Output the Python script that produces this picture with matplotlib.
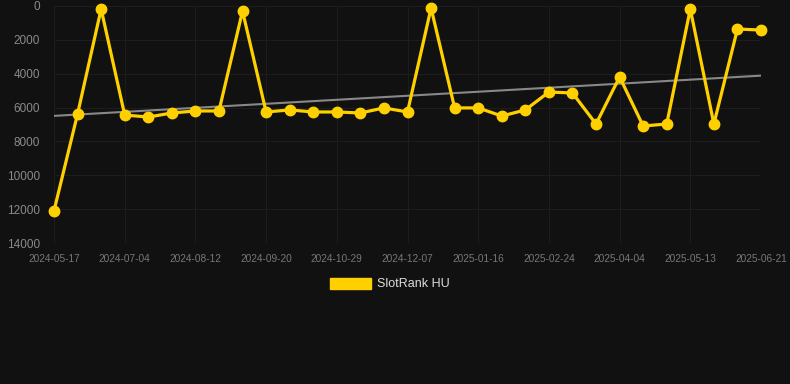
import numpy as np
import matplotlib.pyplot as plt
from matplotlib.patches import Patch

# rank values, one every ~13 days
ranks = [12100, 6380, 180, 6440, 6560, 6320, 6200, 6200, 300, 6260,
         6140, 6260, 6260, 6320, 6020, 6260, 120, 6020, 6020, 6500,
         6140, 5080, 5140, 6970, 4190, 7090, 6970, 180, 6970, 1360, 1420]
tick_labels = ['2024-05-17', '2024-07-04', '2024-08-12', '2024-09-20',
               '2024-10-29', '2024-12-07', '2025-01-16', '2025-02-24',
               '2025-04-04', '2025-05-13', '2025-06-21']
y_ticks = [0, 2000, 4000, 6000, 8000, 10000, 12000, 14000]

bg = '#111111'
gold = '#FFD000'

x = np.arange(len(ranks))
fit = np.polyfit(x, ranks, 1)
trend = np.polyval(fit, x)

fig = plt.figure(figsize=(7.9, 3.84), dpi=100, facecolor=bg)
ax = fig.add_axes([54/790, 1-243/384, (761-54)/790, (243-6)/384])
ax.set_facecolor(bg)

ax.plot(x, trend, color='#888888', lw=1.5, zorder=2)
ax.plot(x, ranks, color=gold, lw=2.3, marker='o', ms=7.5, zorder=3, clip_on=False)

ax.set_xlim(0, len(ranks)-1)
ax.set_ylim(14000, 0)
ax.set_yticks(y_ticks)
ax.set_yticklabels([str(v) for v in y_ticks])
ax.set_xticks(x[::3])
ax.set_xticklabels(tick_labels)

ax.grid(True, color='#1d1d1d', lw=0.8)
for s in ax.spines.values():
    s.set_visible(False)
ax.tick_params(axis='y', length=0, pad=10, labelsize=8.5, labelcolor='#8a8a8a')
ax.tick_params(axis='x', length=0, pad=8, labelsize=7.3, labelcolor='#777777')
for lab in ax.get_xticklabels() + ax.get_yticklabels():
    lab.set_family(['Liberation Sans', 'DejaVu Sans'])

leg = fig.legend(handles=[Patch(facecolor=gold, edgecolor=gold, label='SlotRank HU')],
                 loc='center', bbox_to_anchor=(390/790, 1-284/384), frameon=False,
                 handlelength=3.3, handleheight=1.0, handletextpad=0.5,
                 prop={'family': ['Liberation Sans', 'DejaVu Sans'], 'size': 9})
for t in leg.get_texts():
    t.set_color('#dddddd')

fig.savefig('out.png', dpi=100, facecolor=bg)
